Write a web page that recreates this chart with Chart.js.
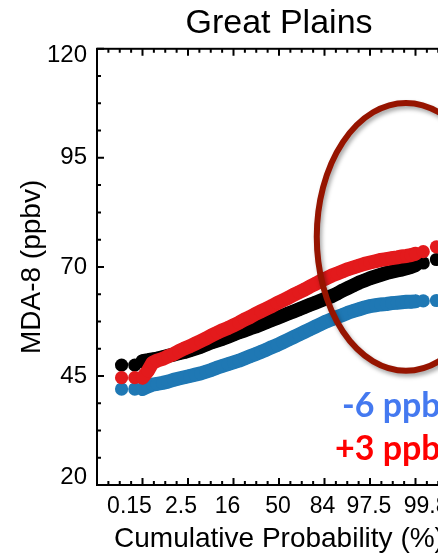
<!DOCTYPE html>
<html>
<head>
<meta charset="utf-8">
<script src="https://cdn.jsdelivr.net/npm/chart.js@4/dist/chart.umd.min.js"></script>
<style>
  html, body { margin: 0; padding: 0; overflow: hidden; background: #fff; }
  #wrap { width: 480px; height: 556px; }
</style>
</head>
<body>
<div id="wrap"><canvas id="c" width="480" height="556"></canvas></div>
<script>
// Normal-score (probit) positions of the plotted quantiles
const probitPos = [-3.46, -3.17, -3.0, -2.88, -2.78, -2.68, -2.56, -2.44, -2.32, -2.2,
  -2.08, -1.96, -1.84, -1.72, -1.6, -1.48, -1.36, -1.24, -1.12, -1.0,
  -0.88, -0.76, -0.64, -0.52, -0.4, -0.28, -0.16, -0.04, 0.08, 0.2,
  0.32, 0.44, 0.56, 0.68, 0.8, 0.92, 1.04, 1.16, 1.28, 1.4,
  1.52, 1.64, 1.76, 1.88, 2.0, 2.12, 2.24, 2.36, 2.48, 2.6,
  2.7, 2.8, 2.9, 3.0, 3.17, 3.46];

// MDA-8 ozone (ppbv) at those quantiles
const mdaBase = [47.5, 47.5, 48.4, 48.6, 48.8, 49.0, 49.3, 49.6, 49.9, 50.2,
  50.5, 50.9, 51.3, 51.7, 52.2, 52.7, 53.1, 53.5, 54.0, 54.5,
  55.0, 55.4, 55.9, 56.3, 56.8, 57.3, 57.8, 58.3, 58.8, 59.3,
  59.8, 60.3, 60.8, 61.3, 61.8, 62.3, 62.8, 63.3, 63.9, 64.6,
  65.2, 65.8, 66.4, 66.9, 67.4, 67.8, 68.2, 68.6, 68.9, 69.2,
  69.4, 69.7, 70.0, 70.4, 70.9, 71.7];
const mdaHigh = [44.6, 44.6, 44.6, 46.2, 48.0, 48.5, 48.9, 49.5, 50.0, 50.7,
  51.3, 51.8, 52.4, 53.0, 53.6, 54.3, 54.9, 55.5, 56.0, 56.6,
  57.2, 57.9, 58.5, 59.2, 59.8, 60.4, 61.0, 61.7, 62.3, 62.9,
  63.6, 64.2, 64.8, 65.5, 66.1, 66.8, 67.4, 68.0, 68.5, 69.0,
  69.5, 69.9, 70.3, 70.7, 71.0, 71.3, 71.6, 71.8, 72.0, 72.2,
  72.4, 72.5, 72.7, 73.0, 73.5, 74.6];
const mdaLow = [42.0, 42.0, 42.0, 42.6, 43.0, 43.2, 43.4, 43.7, 44.1, 44.4,
  44.7, 45.0, 45.3, 45.6, 46.0, 46.4, 46.9, 47.3, 47.7, 48.1,
  48.5, 49.0, 49.5, 50.0, 50.5, 51.0, 51.6, 52.1, 52.7, 53.3,
  53.9, 54.5, 55.1, 55.7, 56.3, 56.9, 57.5, 58.0, 58.5, 59.0,
  59.5, 59.9, 60.3, 60.7, 61.0, 61.2, 61.4, 61.5, 61.7, 61.8,
  61.9, 62.0, 62.0, 62.1, 62.2, 62.3];

// Axis ticks
const xTickZ = [-3, -2, -1, 0, 1, 2, 3];
const xTickLabels = ['0.15', '2.5', '16', '50', '84', '97.5', '99.85'];
const yTicks = [20, 45, 70, 95, 120];

// Change labels
const deltaLabels = ['-6 ppbv', '+3 ppbv'];

const FONT = '"Liberation Sans", Arial, Helvetica, sans-serif';

const toPts = ys => probitPos.map((z, i) => ({ x: z, y: ys[i] }));

// the lowest and highest quantiles stay as separate dots
const lastIdx = probitPos.length - 1;
const tailSegment = c => (c.p0DataIndex < 2 || c.p1DataIndex > lastIdx - 2) ? 'rgba(0,0,0,0)' : undefined;

const series = (label, values, color, order) => ({
  label,
  data: toPts(values),
  backgroundColor: color,
  borderColor: color,
  showLine: true,
  borderWidth: 14,
  borderCapStyle: 'round',
  borderJoinStyle: 'round',
  segment: { borderColor: tailSegment },
  pointRadius: 6.6,
  pointBorderWidth: 0,
  pointHoverRadius: 6.6,
  pointHoverBorderWidth: 0,
  pointBackgroundColor: color,
  order
});

// IDL-style frame with inward major/minor ticks, plus the highlight ring and change labels
const decorations = {
  id: 'decorations',
  beforeDraw(chart) {
    const xs = chart.scales.x, ys = chart.scales.y;
    const xShift = [-13, -7, -6, -1, -2, -1, 17];
    xs.getLabelItems().forEach((it, i) => {
      if (it.options && it.options.translation) it.options.translation[0] += (xShift[i] || 0);
    });
    ys.getLabelItems().forEach(it => {
      if (!it.options || !it.options.translation) return;
      if (it.label === '120') it.options.translation[1] += 7;
      if (it.label === '20') it.options.translation[1] -= 8;
    });
  },
  afterDraw(chart) {
    const { ctx, chartArea: a } = chart;
    const xs = chart.scales.x, ys = chart.scales.y;
    ctx.save();
    ctx.strokeStyle = '#000';
    ctx.lineWidth = 2;
    ctx.lineCap = 'butt';
    ctx.strokeRect(a.left, a.top, a.right - a.left, a.bottom - a.top);
    ctx.beginPath();
    // x ticks every 0.25 (major at integers)
    for (let k = -16; k <= 16; k++) {
      const px = xs.getPixelForValue(k / 4);
      const len = (k % 4 === 0) ? 7 : 4;
      ctx.moveTo(px, a.bottom); ctx.lineTo(px, a.bottom - len);
      ctx.moveTo(px, a.top); ctx.lineTo(px, a.top + len);
    }
    // y ticks every 6.25 (major every 25)
    for (let k = 0; k <= 16; k++) {
      const py = ys.getPixelForValue(20 + k * 6.25);
      const len = (k % 4 === 0) ? 7 : 4;
      ctx.moveTo(a.left, py); ctx.lineTo(a.left + len, py);
      ctx.moveTo(a.right, py); ctx.lineTo(a.right - len, py);
    }
    ctx.stroke();

    // highlight ring around the upper tail
    const cx = xs.getPixelForValue(2.79), cy = ys.getPixelForValue(76.9);
    const rx = xs.getPixelForValue(2.79 + 1.96) - cx;
    const ry = cy - ys.getPixelForValue(76.9 + 30.7);
    ctx.shadowColor = 'rgba(0,0,0,0.35)';
    ctx.shadowBlur = 4;
    ctx.shadowOffsetX = 2;
    ctx.shadowOffsetY = 3;
    ctx.strokeStyle = '#961400';
    ctx.lineWidth = 6;
    ctx.beginPath();
    ctx.ellipse(cx, cy, rx, ry, 0, 0, Math.PI * 2);
    ctx.stroke();
    ctx.shadowColor = 'transparent';

    // change labels
    ctx.font = 'bold 34px Lato, "Open Sans", sans-serif';
    ctx.textAlign = 'left';
    ctx.textBaseline = 'alphabetic';
    ctx.fillStyle = '#4479f0';
    ctx.fillText(deltaLabels[0], xs.getPixelForValue(1.385), ys.getPixelForValue(35.6));
    ctx.fillStyle = '#ff0000';
    ctx.fillText(deltaLabels[1], xs.getPixelForValue(1.23), ys.getPixelForValue(25.7));
    ctx.restore();
  }
};

new Chart(document.getElementById('c'), {
  type: 'scatter',
  data: {
    datasets: [
      series('high', mdaHigh, '#e31a1c', 0),
      series('base', mdaBase, '#000000', 1),
      series('low', mdaLow, '#1f78b4', 2)
    ]
  },
  options: {
    responsive: false,
    animation: false,
    events: [],
    layout: { padding: { left: 0, right: 19, top: 0, bottom: 0 } },
    plugins: {
      legend: { display: false },
      tooltip: { enabled: false },
      title: {
        display: true,
        fullSize: false,
        text: 'Great Plains',
        color: '#000',
        font: { family: FONT, size: 34, weight: 'normal' },
        padding: { top: 3, bottom: 5 }
      }
    },
    scales: {
      x: {
        type: 'linear',
        min: -4, max: 4,
        grid: { display: false, drawTicks: false },
        border: { display: false },
        afterBuildTicks: s => { s.ticks = xTickZ.map(v => ({ value: v })); },
        afterFit: s => { s.height = 71; },
        ticks: {
          autoSkip: false,
          maxRotation: 0,
          padding: 8,
          color: '#000',
          font: { family: FONT, size: 23 },
          callback: (v, i) => xTickLabels[i]
        },
        title: {
          display: true,
          text: 'Cumulative Probability (%)',
          color: '#000',
          font: { family: FONT, size: 28 },
          padding: { top: 0, bottom: 0 }
        }
      },
      y: {
        type: 'linear',
        min: 20, max: 120,
        grid: { display: false, drawTicks: false },
        border: { display: false },
        afterBuildTicks: s => { s.ticks = yTicks.map(v => ({ value: v })); },
        afterFit: s => { s.width = 97; },
        ticks: {
          padding: 10,
          color: '#000',
          font: { family: FONT, size: 24 }
        },
        title: {
          display: true,
          text: 'MDA-8 (ppbv)',
          color: '#000',
          font: { family: FONT, size: 28 },
          padding: { top: 15, bottom: 0 }
        }
      }
    }
  },
  plugins: [decorations]
});
</script>
</body>
</html>
